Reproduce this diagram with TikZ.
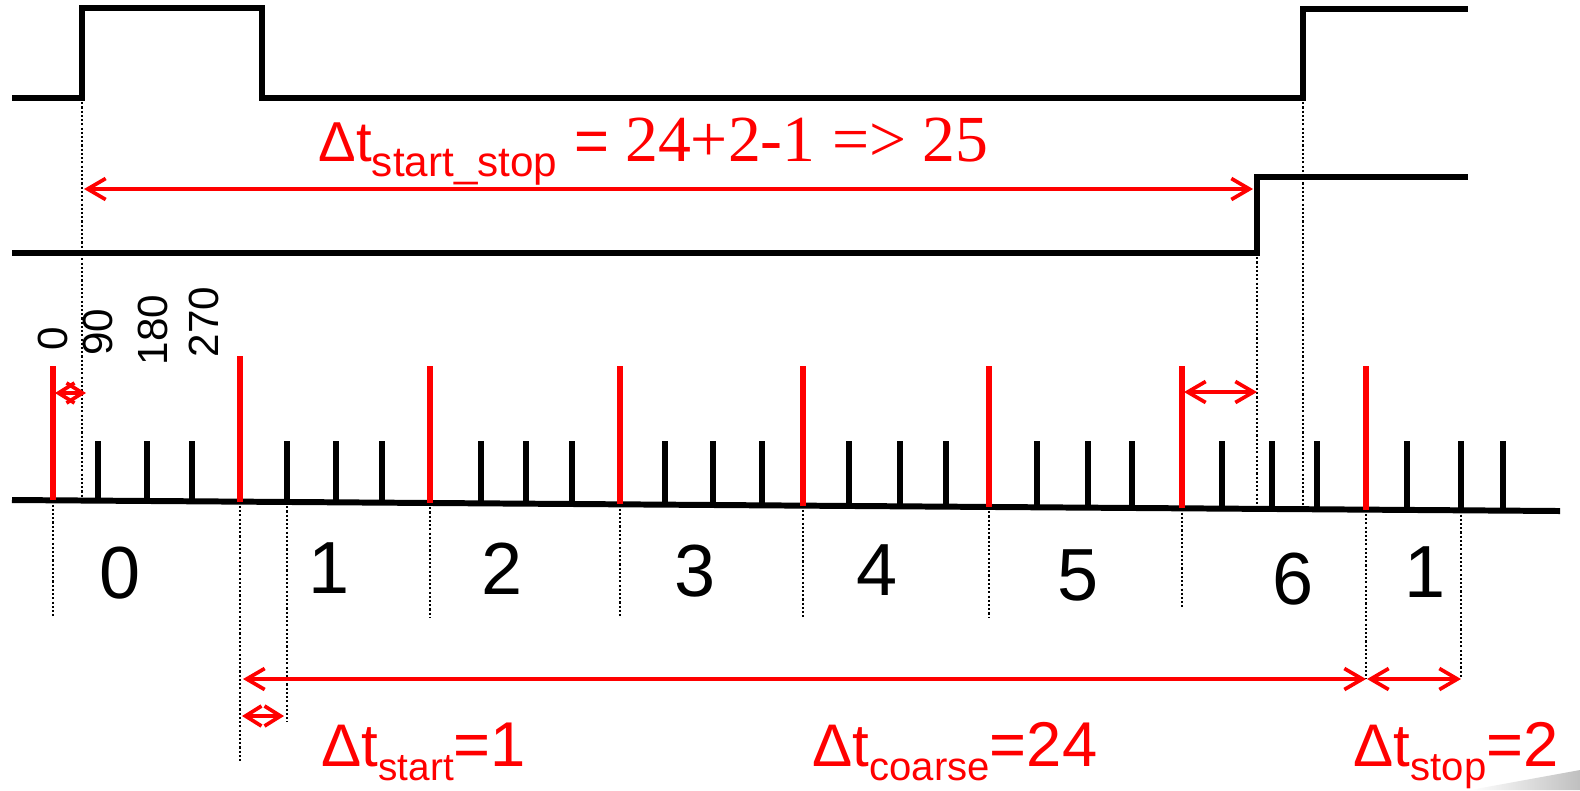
\documentclass[tikz,border=0pt]{standalone}
\usepackage{fontspec}
\setmainfont{Liberation Sans}
\newfontfamily\timesf{Liberation Serif}
\usetikzlibrary{arrows.meta}
\begin{document}
\begin{tikzpicture}[x=0.01cm,y=-0.01cm,
  sig/.style={line width=1.6pt, line join=miter},
  axisline/.style={line width=1.7pt},
  tickline/.style={line width=1.5pt},
  redtick/.style={line width=1.6pt, red},
  guide/.style={line width=0.5pt, dash pattern=on 0.6pt off 0.6pt},
  dimarrow/.style={red, line width=1.05pt, {Straight Barb[length=0.18cm,width=0.21cm]}-{Straight Barb[length=0.18cm,width=0.21cm]}},
  sdimarrow/.style={red, line width=1.05pt, {Straight Barb[length=0.16cm,width=0.2cm]}-{Straight Barb[length=0.16cm,width=0.2cm]}},
  num/.style={font=\fontsize{21pt}{21pt}\selectfont, inner sep=0},
  deg/.style={font=\fontsize{12pt}{12pt}\selectfont, rotate=90, inner sep=0},
  lab/.style={red, font=\fontsize{17.1pt}{17pt}\selectfont, inner sep=0, anchor=base west},
]
\useasboundingbox (0,0) rectangle (1580,790);

% light grey artifact, bottom right
\shade[left color=white, right color=black!25] (1470,790) -- (1580,770) -- (1580,790) -- cycle;

% signals
\draw[sig] (12,98) -- (82,98) -- (82,8) -- (262,8) -- (262,98) -- (1303,98) -- (1303,9) -- (1468,9);
\draw[sig] (12,253) -- (1257,253) -- (1257,177) -- (1468,177);

% dotted guides from signal edges
\coordinate (e1) at (82,98);
\coordinate (e2) at (1303,98);
\coordinate (e3) at (1257,253);
\draw[guide] (e1) -- (82,{500+(82-12)*0.0071});
\draw[guide] (e2) -- (1303,{500+(1303-12)*0.0071});
\draw[guide] (e3) -- (1257,{500+(1257-12)*0.0071});

% time axis
\draw[axisline] (12,500) -- (1560,511);

% black ticks
\foreach \x in {98,147,192,287,336,382,481,526,572,665,713,762,849,900,946,1037,1088,1132,1222,1272,1317,1407,1461,1503}
  \draw[tickline] (\x,441) -- (\x,{500+(\x-12)*0.0071});

% red period lines
\foreach \x/\t in {53/366,240/356,430/366,620/366,803/366,989/366,1182/366,1366/366}
  \draw[redtick] (\x,\t) -- (\x,{500+(\x-12)*0.0071});

% dotted guides below axis
\foreach \x/\b in {53/617,240/763,287/722,430/617,620/617,803/617,989/617,1182/607,1366/679,1461/679}
  \draw[guide] (\x,{500+(\x-12)*0.0071}) -- (\x,\b);

% dimension arrows
\coordinate (a1) at (84,189);   \coordinate (a2) at (1253,189);
\draw[dimarrow] (a1) -- (a2);
\coordinate (b1) at (55,393);   \coordinate (b2) at (86,393);
\draw[sdimarrow] (b1) -- (b2);
\coordinate (c1) at (1184,392); \coordinate (c2) at (1257,392);
\draw[dimarrow] (c1) -- (c2);
\coordinate (d1) at (243,679);  \coordinate (d2) at (1366,679);
\draw[dimarrow] (d1) -- (d2);
\coordinate (f1) at (1367,679); \coordinate (f2) at (1461,679);
\draw[dimarrow] (f1) -- (f2);
\coordinate (g1) at (242,716);  \coordinate (g2) at (284,716);
\draw[sdimarrow] (g1) -- (g2);

% phase labels
\node[deg] (p0) at (53,339) {0};
\node[deg] (p90) at (98,332) {90};
\node[deg] (p180) at (153,330) {180};
\node[deg] (p270) at (204,322) {270};

% counter values
\node[num] (n0) at (120,573) {0};
\node[num] (n1) at (329,568) {1};
\node[num] (n2) at (502,569) {2};
\node[num] (n3) at (695,571) {3};
\node[num] (n4) at (877,570) {4};
\node[num] (n5) at (1078,575) {5};
\node[num] (n6) at (1293,579) {6};
\node[num] (n7) at (1425,572) {1};

% red labels
\node[lab] (lstart) at (321,766) {Δt\raisebox{-0.14cm}{\fontsize{11pt}{12pt}\selectfont start}\fontsize{18pt}{18pt}\selectfont=1};
\node[lab] (lcoarse) at (812,766) {Δt\raisebox{-0.14cm}{\fontsize{11.4pt}{12pt}\selectfont coarse}\fontsize{18pt}{18pt}\selectfont=24};
\node[lab] (lstop) at (1353,766) {Δt\raisebox{-0.14cm}{\fontsize{11.4pt}{12pt}\selectfont stop}\fontsize{18pt}{18pt}\selectfont=2};
\node[lab, font=\fontsize{16pt}{16pt}\selectfont] (ltop) at (318,161)
  {Δt\raisebox{-0.15cm}{\fontsize{12pt}{12pt}\selectfont start\_stop}\hspace{0.17cm}{\fontsize{17pt}{17pt}\selectfont=}\hspace{0.16cm}{\timesf\fontsize{18.7pt}{19pt}\selectfont 24+2-1 => 25}};
\end{tikzpicture}
\end{document}
